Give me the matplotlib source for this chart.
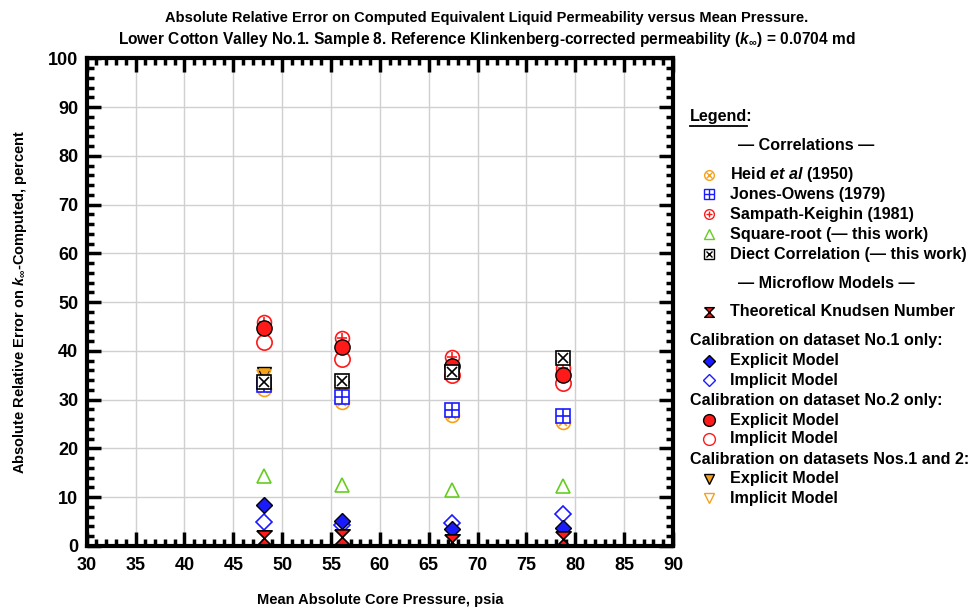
import matplotlib
matplotlib.use("Agg")
import matplotlib.pyplot as plt
from matplotlib.ticker import MultipleLocator

plt.rcParams['font.family'] = ['Liberation Sans', 'DejaVu Sans']
plt.rcParams['font.weight'] = 'bold'
plt.rcParams['mathtext.fontset'] = 'custom'
plt.rcParams['mathtext.rm'] = 'Liberation Sans:bold'
plt.rcParams['mathtext.it'] = 'Liberation Sans:italic:bold'
plt.rcParams['mathtext.bf'] = 'Liberation Sans:bold'

# mean pressure, psia
pressure = [48.1, 56.1, 67.4, 78.7]

# absolute relative error, percent
heid = [32.2, 29.6, 26.8, 25.4]
jones_owens = [33.0, 30.6, 27.8, 26.6]
sampath = [46.0, 42.6, 38.8, 36.4]
square_root = [14.3, 12.4, 11.5, 12.2]
diect = [33.7, 33.9, 35.6, 38.6]
knudsen = [1.7, 1.8, 0.8, 1.4]
expl_ds1 = [8.4, 5.2, 3.4, 3.6]
impl_ds1 = [4.9, 4.4, 4.8, 6.5]
expl_ds2 = [44.6, 40.9, 37.0, 35.0]
impl_ds2 = [41.9, 38.4, 35.0, 33.5]
expl_ds12 = [35.3, 32.3, 35.2, 34.8]
impl_ds12 = [34.6, 31.8, 34.9, 34.2]

orange = '#f5a21b'
blue = '#1a1aff'
red = '#ff1a1a'
green = '#66cc22'
hourglass = [(-1, 1), (1, 1), (-1, -1), (1, -1), (-1, 1)]

fig = plt.figure(figsize=(9.73, 6.09), dpi=100)
ax = fig.add_axes([0.0891, 0.1035, 0.6026, 0.8008])

ms = 10
ax.plot(pressure, expl_ds12, 'v', color=orange, mec='black', mew=1, ms=ms, ls='none')
ax.plot(pressure, impl_ds12, 'v', color=orange, mfc='none', mew=1.2, ms=ms, ls='none')
ax.plot(pressure, heid, 'o', color=orange, mfc='white', mew=1.2, ms=ms, ls='none')
ax.plot(pressure, heid, 'x', color=orange, mew=1.2, ms=6, ls='none')
ax.plot(pressure, jones_owens, 's', color=blue, mfc='white', mew=1.2, ms=ms, ls='none')
ax.plot(pressure, jones_owens, '+', color=blue, mew=1.2, ms=ms, ls='none')
ax.plot(pressure, impl_ds2, 'o', color=red, mfc='white', mew=1.2, ms=ms + 1, ls='none')
ax.plot(pressure, sampath, 'o', color=red, mfc='white', mew=1.2, ms=ms, ls='none')
ax.plot(pressure, sampath, '+', color=red, mew=1.2, ms=ms * 0.7, ls='none')
ax.plot(pressure, expl_ds2, 'o', color=red, mec='black', mew=1, ms=ms + 1, ls='none')
ax.plot(pressure, diect, 's', color='black', mfc='white', mew=1.2, ms=ms, ls='none')
ax.plot(pressure, diect, 'x', color='black', mew=1.2, ms=ms * 0.7, ls='none')
ax.plot(pressure, square_root, '^', color=green, mfc='white', mew=1.2, ms=ms, ls='none')
ax.plot(pressure, impl_ds1, 'D', color=blue, mfc='white', mew=1.2, ms=8.5, ls='none')
ax.plot(pressure, expl_ds1, 'D', color=blue, mec='black', mew=1, ms=8.5, ls='none')
ax.plot(pressure, knudsen, marker=hourglass, color=red, mec='black', mew=1.2, ms=ms + 1, ls='none')

ax.set_xlim(30, 90)
ax.set_ylim(0, 100)
ax.xaxis.set_major_locator(MultipleLocator(5))
ax.xaxis.set_minor_locator(MultipleLocator(1))
ax.yaxis.set_major_locator(MultipleLocator(10))
ax.yaxis.set_minor_locator(MultipleLocator(2))
ax.tick_params(which='both', direction='in', top=True, right=True, width=2.5, color='black')
ax.tick_params(which='major', length=10, labelsize=13, pad=6)
ax.tick_params(which='minor', length=5)
ax.tick_params(axis='x', which='major', pad=8)
for s in ax.spines.values():
    s.set_linewidth(3)
ax.grid(True, which='major', color='#d0d0d0', lw=1)
ax.set_axisbelow(True)
for lab in ax.get_xticklabels() + ax.get_yticklabels():
    lab.set_fontweight('bold')

ax.set_xlabel('Mean Absolute Core Pressure, psia', fontsize=10.5, fontweight='bold')
ax.xaxis.set_label_coords(0.5, -0.097)
ax.set_ylabel(r'Absolute Relative Error on $k_{\infty}$-Computed, percent', fontsize=10.5,
              fontweight='bold', labelpad=14)

fig.text(0.5, 0.982, 'Absolute Relative Error on Computed Equivalent Liquid Permeability versus Mean Pressure.',
         ha='center', va='top', fontsize=10.5, fontweight='bold')
fig.text(0.5, 0.950, r'Lower Cotton Valley No.1. Sample 8. Reference Klinkenberg-corrected permeability ($k_{\infty}$) = 0.0704 md',
         ha='center', va='top', fontsize=11.2, fontweight='bold')

# legend panel in pixel coordinates
lax = fig.add_axes([0, 0, 1, 1])
lax.set_xlim(0, 973)
lax.set_ylim(609, 0)
lax.axis('off')

fs = 11.6
lax.text(690, 117, 'Legend:', fontsize=fs, fontweight='bold', va='center')
lax.plot([690, 747], [126, 126], color='black', lw=1.3)
lax.text(738, 145, '— Correlations —', fontsize=fs, fontweight='bold', va='center')
lax.text(738, 284, '— Microflow Models —', fontsize=fs, fontweight='bold', va='center')

mx, tx = 709, 730
rows = [
    (175, r'Heid $et\ al$ (1950)'),
    (194, 'Jones-Owens (1979)'),
    (214, 'Sampath-Keighin (1981)'),
    (234, 'Square-root (— this work)'),
    (254, 'Diect Correlation (— this work)'),
    (312, 'Theoretical Knudsen Number'),
    (361, 'Explicit Model'),
    (380, 'Implicit Model'),
    (420, 'Explicit Model'),
    (439, 'Implicit Model'),
    (479, 'Explicit Model'),
    (498, 'Implicit Model'),
]
for y, t in rows:
    lax.text(tx, y, t, fontsize=fs, fontweight='bold', va='center')
for y, t in [(341, 'Calibration on dataset No.1 only:'),
             (400, 'Calibration on dataset No.2 only:'),
             (459, 'Calibration on datasets Nos.1 and 2:')]:
    lax.text(690, y, t, fontsize=fs, fontweight='bold', va='center')

lms = 7
lax.plot(mx, 175, 'o', color=orange, mfc='white', mew=1, ms=lms)
lax.plot(mx, 175, 'x', color=orange, mew=1, ms=4.5)
lax.plot(mx, 194, 's', color=blue, mfc='white', mew=1, ms=lms)
lax.plot(mx, 194, '+', color=blue, mew=1, ms=lms)
lax.plot(mx, 214, 'o', color=red, mfc='white', mew=1, ms=lms)
lax.plot(mx, 214, '+', color=red, mew=1, ms=4.5)
lax.plot(mx, 234, '^', color=green, mfc='white', mew=1, ms=lms)
lax.plot(mx, 254, 's', color='black', mfc='white', mew=1, ms=lms)
lax.plot(mx, 254, 'x', color='black', mew=1, ms=4.5)
lax.plot(mx, 312, marker=hourglass, color=red, mec='black', mew=1, ms=lms)
lax.plot(mx, 361, 'D', color=blue, mec='black', mew=1, ms=6)
lax.plot(mx, 380, 'D', color=blue, mfc='white', mew=1, ms=6)
lax.plot(mx, 420, 'o', color=red, mec='black', mew=1, ms=8.5)
lax.plot(mx, 439, 'o', color=red, mfc='white', mew=1, ms=8.5)
lax.plot(mx, 479, 'v', color=orange, mec='black', mew=1, ms=lms)
lax.plot(mx, 498, 'v', color=orange, mfc='white', mew=1, ms=lms)

fig.savefig('out.png', dpi=100)
